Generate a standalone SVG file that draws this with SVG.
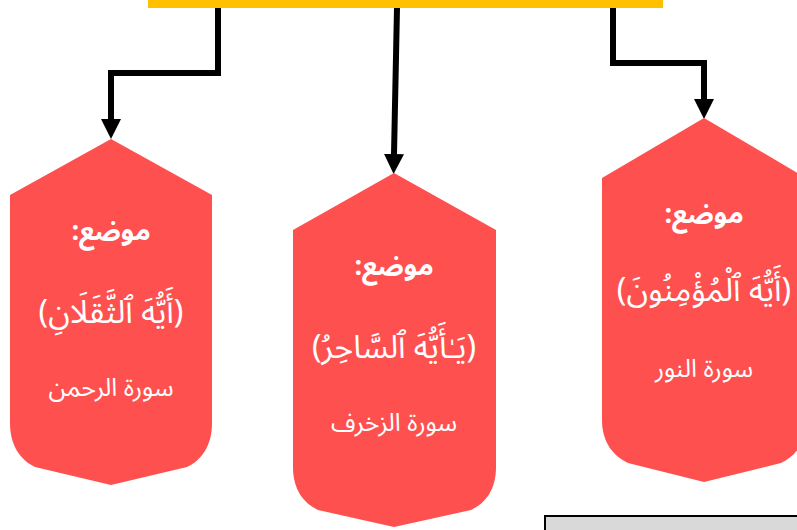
<svg xmlns="http://www.w3.org/2000/svg" width="797" height="530" viewBox="0 0 797 530">
<style>
.shape{fill:#FF5050;}
.conn{fill:none;stroke:#000;stroke-width:6;marker-end:url(#ah);}
.t{font-family:"Noto Sans Arabic","DejaVu Sans",sans-serif;fill:#fff;text-anchor:middle;direction:rtl;}
.h{font-size:27px;font-weight:bold;}
.a{font-size:32px;}
.s{font-size:25px;}
</style>
<defs>
<marker id="ah" markerUnits="userSpaceOnUse" markerWidth="20" markerHeight="20" viewBox="0 0 20 20" refX="0" refY="10" orient="auto">
<path d="M0,0 L20,10 L0,20 Z" fill="#000"/>
</marker>
</defs>
<rect x="148" y="0" width="515" height="8" fill="#FFC000"/>
<g id="connectors">
<path class="conn" d="M218,8 V73 H111 V119"/>
<path class="conn" d="M397,8 L394,154"/>
<path class="conn" d="M613,8 V63 H704 V99"/>
</g>
<g id="node-rahman">
<path class="shape" d="M111,139 L212,195 L212,423 C212,445 202,460 187,467 L111,485 L35,467 C20,460 10,445 10,423 L10,195 Z"/>
<text class="t h" x="111" y="240">موضع:</text>
<text class="t a" x="111" y="323">(أَيُّهَ ٱلثَّقَلَانِ)</text>
<text class="t s" x="111" y="396">سورة الرحمن</text>
</g>
<g id="node-zukhruf">
<path class="shape" d="M394,173 L496,230 L496,467 C496,489 486,503 471,510 L394,527 L318,510 C303,503 293,489 293,467 L293,230 Z"/>
<text class="t h" x="394" y="275">موضع:</text>
<text class="t a" x="394" y="358">(يَـٰأَيُّهَ ٱلسَّاحِرُ)</text>
<text class="t s" x="394" y="431">سورة الزخرف</text>
</g>
<g id="node-nur">
<path class="shape" d="M704,118 L806,178 L806,420 C806,442 796,456 781,463 L704,482 L628,463 C613,456 602,442 602,420 L602,178 Z"/>
<text class="t h" x="704" y="223">موضع:</text>
<text class="t a" x="704" y="301">(أَيُّهَ ٱلْمُؤْمِنُونَ)</text>
<text class="t s" x="704" y="377">سورة النور</text>
</g>
<g id="box">
<rect x="545" y="516" width="260" height="30" fill="#D9D9D9" stroke="#000" stroke-width="2"/>
</g>
</svg>
